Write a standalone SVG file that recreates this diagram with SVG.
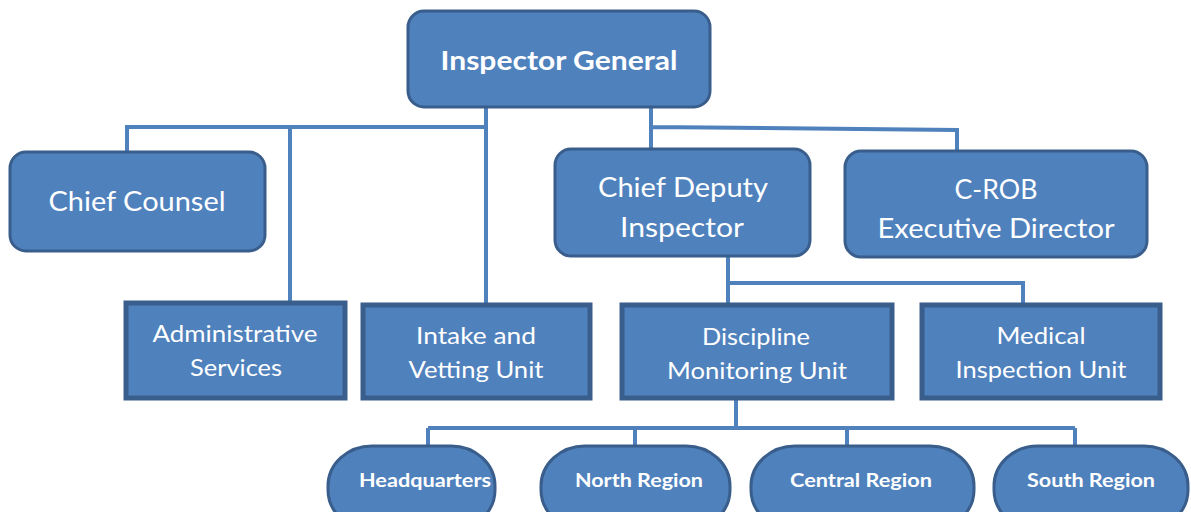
<svg xmlns="http://www.w3.org/2000/svg" width="1191" height="512" viewBox="0 0 1191 512">
<style>
.box{fill:#4F81BD;stroke:#3A5E8C;stroke-width:3}
.sq{fill:#4F81BD;stroke:#3A5E8C;stroke-width:5}
.ln{fill:none;stroke:#4F81BD;stroke-width:4}
text{fill:#fff;font-family:Lato,"Open Sans","Liberation Sans",sans-serif;text-anchor:middle}
.t24{font-size:27px}
.t22{font-size:24px}
.b{font-weight:bold}
.s{font-size:19px;font-weight:bold}
</style>
<rect width="1191" height="512" fill="#fff"/>
<g id="connectors">
<path class="ln" d="M486 106V307 M486 127H127V152 M290 127V302 M651 106V150 M651 127L957 130V152"/>
<path class="ln" d="M728 256V283H1023V305 M728 283V305"/>
<path class="ln" d="M736 398V428 M428 428H1075 M428 428V447 M635 428V447 M847 428V447 M1075 428V447"/>
</g>
<g id="inspector-general">
<rect class="box" x="408" y="11" width="302" height="96" rx="16"/>
<text class="b" x="559" y="70" font-size="27" textLength="237" lengthAdjust="spacingAndGlyphs">Inspector General</text>
</g>
<g id="chief-counsel">
<rect class="box" x="10" y="152" width="255" height="99" rx="16"/>
<text class="t24" x="137" y="211" textLength="177" lengthAdjust="spacingAndGlyphs">Chief Counsel</text>
</g>
<g id="chief-deputy">
<rect class="box" x="555" y="149" width="255" height="107" rx="16"/>
<text class="t24" x="683" y="197" textLength="170" lengthAdjust="spacingAndGlyphs">Chief Deputy</text>
<text class="t24" x="682" y="237" textLength="124" lengthAdjust="spacingAndGlyphs">Inspector</text>
</g>
<g id="c-rob">
<rect class="box" x="845" y="151" width="302" height="106" rx="16"/>
<text class="t24" x="996" y="199" textLength="83" lengthAdjust="spacingAndGlyphs">C-ROB</text>
<text class="t24" x="996" y="238" textLength="237" lengthAdjust="spacingAndGlyphs">Executive Director</text>
</g>
<g id="administrative-services">
<rect class="sq" x="126" y="303" width="219" height="95"/>
<text class="t22" x="235" y="342" textLength="165" lengthAdjust="spacingAndGlyphs">Administrative</text>
<text class="t22" x="236" y="376" textLength="92" lengthAdjust="spacingAndGlyphs">Services</text>
</g>
<g id="intake-vetting">
<rect class="sq" x="363" y="305" width="227" height="93"/>
<text class="t22" x="476" y="344" textLength="120" lengthAdjust="spacingAndGlyphs">Intake and</text>
<text class="t22" x="476" y="378" textLength="135" lengthAdjust="spacingAndGlyphs">Vetting Unit</text>
</g>
<g id="discipline-monitoring">
<rect class="sq" x="622" y="305" width="270" height="93"/>
<text class="t22" x="756" y="345" textLength="108" lengthAdjust="spacingAndGlyphs">Discipline</text>
<text class="t22" x="757" y="379" textLength="180" lengthAdjust="spacingAndGlyphs">Monitoring Unit</text>
</g>
<g id="medical-inspection">
<rect class="sq" x="922" y="305" width="238" height="93"/>
<text class="t22" x="1041" y="344" textLength="89" lengthAdjust="spacingAndGlyphs">Medical</text>
<text class="t22" x="1041" y="378" textLength="171" lengthAdjust="spacingAndGlyphs">Inspection Unit</text>
</g>
<g id="headquarters">
<rect class="box" x="328" y="446" width="167" height="84" rx="44" ry="40"/>
<text class="s" x="425" y="487" textLength="132" lengthAdjust="spacingAndGlyphs">Headquarters</text>
</g>
<g id="north-region">
<rect class="box" x="541" y="446" width="189" height="84" rx="44" ry="40"/>
<text class="s" x="639" y="487" textLength="128" lengthAdjust="spacingAndGlyphs">North Region</text>
</g>
<g id="central-region">
<rect class="box" x="751" y="446" width="223" height="84" rx="44" ry="40"/>
<text class="s" x="861" y="487" textLength="142" lengthAdjust="spacingAndGlyphs">Central Region</text>
</g>
<g id="south-region">
<rect class="box" x="994" y="446" width="194" height="84" rx="44" ry="40"/>
<text class="s" x="1091" y="487" textLength="128" lengthAdjust="spacingAndGlyphs">South Region</text>
</g>
</svg>
